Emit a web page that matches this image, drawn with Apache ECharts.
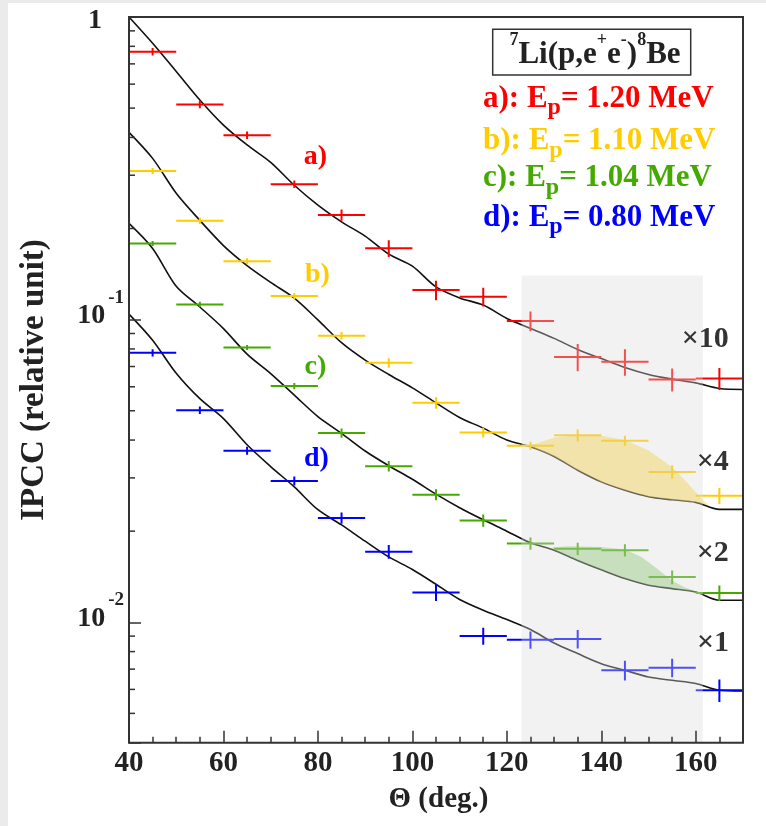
<!DOCTYPE html>
<html>
<head>
<meta charset="utf-8">
<script src="https://cdn.jsdelivr.net/npm/echarts@6/dist/echarts.min.js"></script>
<style>
html,body{margin:0;padding:0;background:#ebebeb;width:766px;height:826px;overflow:hidden}
#chart{position:absolute;left:8px;top:3px;width:758px;height:823px;background:#ffffff}
</style>
</head>
<body>
<div id="chart"></div>
<script>
// ---------------- data ----------------
const thetaBins = [45, 55, 65, 75, 85, 95, 105, 115, 125, 135, 145, 155, 165];
const binHalfWidth = 5;

const ipccA = [0.768, 0.514, 0.407, 0.280, 0.2215, 0.172, 0.1252, 0.119, 0.0989, 0.0753, 0.0726, 0.0634, 0.0639];
const errA  = [0.022, 0.0147, 0.0116, 0.008, 0.0095, 0.0108, 0.0092, 0.0084, 0.0074, 0.0078, 0.0073, 0.0055, 0.0053];

const ipccB = [0.3097, 0.212, 0.156, 0.1196, 0.0885, 0.0720, 0.0531, 0.0424, 0.0383, 0.0415, 0.0398, 0.0314, 0.0262];
const errB  = [0.0071, 0.0049, 0.0036, 0.0028, 0.0026, 0.0026, 0.0023, 0.0016, 0.0012, 0.0019, 0.0015, 0.0016, 0.0016];

const ipccC = [0.1786, 0.1123, 0.0809, 0.0603, 0.0422, 0.0328, 0.0264, 0.0217, 0.0182, 0.0175, 0.0173, 0.0141, 0.0125];
const errC  = [0.0034, 0.0022, 0.0016, 0.0014, 0.0015, 0.0013, 0.0011, 0.0010, 0.00085, 0.00082, 0.00081, 0.00074, 0.00074];

const ipccD = [0.0777, 0.0502, 0.0369, 0.0293, 0.0221, 0.0171, 0.01254, 0.00901, 0.00875, 0.00881, 0.00694, 0.00708, 0.00596];
const errD  = [0.0022, 0.0014, 0.0011, 0.0010, 0.00095, 0.00089, 0.00079, 0.00059, 0.00057, 0.00062, 0.00052, 0.00050, 0.00051];

const curveTheta = [40, 45, 50, 55, 60, 65, 70, 75, 80, 85, 90, 95, 100, 105, 110, 115, 120, 125, 130, 135, 140, 145, 150, 155, 160, 165, 170];
const curveA = [1.000, 0.819, 0.661, 0.532, 0.4395, 0.378, 0.331, 0.278, 0.239, 0.2105, 0.1888, 0.1646, 0.1502, 0.1283, 0.118, 0.1117, 0.1009, 0.0935, 0.0867, 0.0797, 0.0744, 0.0695, 0.0659, 0.0636, 0.0618, 0.0592, 0.0588];
const curveB = [0.4157, 0.3411, 0.2616, 0.2128, 0.1757, 0.1508, 0.1327, 0.1178, 0.0998, 0.0839, 0.0735, 0.0659, 0.0595, 0.0531, 0.0475, 0.0438, 0.0400, 0.0380, 0.0353, 0.0318, 0.0291, 0.0273, 0.0260, 0.0254, 0.0249, 0.0236, 0.0236];
const curveC = [0.208, 0.1719, 0.1289, 0.1101, 0.0934, 0.0769, 0.0663, 0.0563, 0.0478, 0.0421, 0.0368, 0.0329, 0.0297, 0.0265, 0.0239, 0.0218, 0.0200, 0.0183, 0.0173, 0.0160, 0.0149, 0.01394, 0.01325, 0.01292, 0.01259, 0.01182, 0.01182];
const curveD = [0.1043, 0.0855, 0.0665, 0.0548, 0.0471, 0.0386, 0.0327, 0.0280, 0.02354, 0.02098, 0.01853, 0.01644, 0.01494, 0.01335, 0.01189, 0.01096, 0.01021, 0.00946, 0.00854, 0.00788, 0.00730, 0.00694, 0.00659, 0.00643, 0.00628, 0.00596, 0.00593];

// excess bands (upper edge; lower edge is the curve)
const excessBTheta = [123.1, 125.9, 130.1, 135.1, 140.0, 145.0, 149.9, 155.0, 158.4, 161.25, 163.0];
const excessBUpper = [0.0385, 0.0388, 0.0408, 0.0415, 0.0413, 0.0400, 0.0370, 0.0326, 0.0287, 0.0256, 0.0242];
const excessCTheta = [129.65, 133.0, 140.0, 145.0, 148.5, 151.35, 154.9, 157.7, 160.5, 161.6];
const excessCUpper = [0.01766, 0.01783, 0.01774, 0.01739, 0.01644, 0.01524, 0.01376, 0.01302, 0.01259, 0.01244];

const grayBandTheta = [123.1, 161.5];
const grayBandTop = 0.14;

const xMin = 40, xMax = 170, xMajor = 20, xMinor = 5;
const yMin = 0.004, yMax = 1;
const yMinorTicks = [0.005, 0.006, 0.007, 0.008, 0.009, 0.02, 0.03, 0.04, 0.05, 0.06, 0.07, 0.08, 0.09, 0.2, 0.3, 0.4, 0.5, 0.6, 0.7, 0.8, 0.9];
const yLabelValues = [0.01, 0.1, 1];
const yLabelBase = ['10', '10', '1'];
const yLabelExp = ['-2', '-1', ''];

const seriesTags = ['a)', 'b)', 'c)', 'd)'];
const energies = ['1.20', '1.10', '1.04', '0.80'];
const scaleFactors = ['×10', '×4', '×2', '×1'];
const colors = ['#ff0000', '#ffcc00', '#44aa00', '#0000ff'];

// ---------------- chart ----------------
const FONT = '"Liberation Serif", "Times New Roman", serif';
const INK = '#222';
const chart = echarts.init(document.getElementById('chart'));

function crossSeries(vals, errs, color) {
  return {
    type: 'custom', coordinateSystem: 'cartesian2d', clip: true, z: 3, silent: true,
    data: thetaBins.map((t, i) => [t, vals[i], errs[i]]),
    renderItem: function (params, api) {
      const t = api.value(0), v = api.value(1), e = api.value(2);
      const pl = api.coord([t - binHalfWidth, v]);
      const pr = api.coord([t + binHalfWidth, v]);
      const pt = api.coord([t, v + e]);
      const pb = api.coord([t, v - e]);
      const st = { stroke: color, lineWidth: 2 };
      return { type: 'group', children: [
        { type: 'line', shape: { x1: pl[0], y1: pl[1], x2: pr[0], y2: pr[1] }, style: st },
        { type: 'line', shape: { x1: pt[0], y1: pt[1], x2: pb[0], y2: pb[1] }, style: st }
      ]};
    }
  };
}

function curveSeries(vals) {
  return {
    type: 'line', data: curveTheta.map((t, i) => [t, vals[i]]),
    showSymbol: false, symbol: 'none', smooth: 0.3, z: 2, silent: true,
    lineStyle: { color: '#111', width: 1.6 }
  };
}

function excessSeries(upT, upV, curve, fill) {
  return {
    type: 'custom', coordinateSystem: 'cartesian2d', clip: true, z: 5, silent: true,
    data: [[upT[0], upV[0]]],
    renderItem: function (params, api) {
      const upper = upT.map((t, i) => api.coord([t, upV[i]]));
      const t0 = upT[0], t1 = upT[upT.length - 1];
      const lower = curveTheta.map((t, i) => [t, curve[i]])
        .filter(p => p[0] > t0 && p[0] < t1).reverse().map(p => api.coord(p));
      return { type: 'polygon', shape: { points: upper.concat(lower) }, style: { fill: fill } };
    }
  };
}

const richLegend = (color) => ({
  t: { fontSize: 31, fontWeight: 'bold', fontFamily: FONT, fill: color, lineHeight: 31, verticalAlign: 'middle' },
  p: { fontSize: 24, fontWeight: 'bold', fontFamily: FONT, fill: color, lineHeight: 24, padding: [19, 0, 0, 0], verticalAlign: 'middle' }
});

const legendY = [95.7, 137.8, 175.3, 214.5];
const tagPos = [[307.5, 154], [309.5, 272], [307.5, 364], [308.5, 456]];
const factorPos = [[673.7, 336], [688.7, 459], [688.7, 550], [689, 640]];

const graphics = [];
graphics.push({ type: 'rect', z: 20, silent: true,
  shape: { x: 484.7, y: 26.3, width: 198, height: 45.7 },
  style: { fill: 'rgba(0,0,0,0)', stroke: '#333', lineWidth: 1.5 } });
graphics.push({ type: 'text', z: 20, silent: true, x: 587, y: 51.5,
  style: { text: '{s|7}{m|Li(p,e}{s|+}{m|e}{s|-}{m|)}{s|8}{m|Be}', align: 'center', verticalAlign: 'middle',
    rich: {
      m: { fontSize: 31, fontWeight: 'bold', fontFamily: FONT, fill: INK, lineHeight: 31, verticalAlign: 'middle' },
      s: { fontSize: 18, fontWeight: 'bold', fontFamily: FONT, fill: INK, lineHeight: 18, padding: [0, 0, 28, 0], verticalAlign: 'middle' }
    } } });
for (let i = 0; i < 4; i++) {
  graphics.push({ type: 'text', z: 20, silent: true, x: 475, y: legendY[i],
    style: { text: '{t|' + seriesTags[i] + ': E}{p|p}{t|= ' + energies[i] + ' MeV}', align: 'left', verticalAlign: 'middle', rich: richLegend(colors[i]) } });
  graphics.push({ type: 'text', z: 20, silent: true, x: tagPos[i][0], y: tagPos[i][1],
    style: { text: seriesTags[i], fill: colors[i], fontSize: 28, fontWeight: 'bold', fontFamily: FONT, align: 'center', verticalAlign: 'middle' } });
  graphics.push({ type: 'text', z: 20, silent: true, x: factorPos[i][0], y: factorPos[i][1],
    style: { text: scaleFactors[i], fill: '#333', fontSize: 30, fontWeight: 'bold', fontFamily: FONT, align: 'left', verticalAlign: 'middle' } });
}
graphics.push({ type: 'text', z: 20, silent: true, x: 430.5, y: 797,
  style: { text: 'Θ (deg.)', fill: INK, fontSize: 29, fontWeight: 'bold', fontFamily: FONT, align: 'center', verticalAlign: 'middle' } });
graphics.push({ type: 'text', z: 20, silent: true, x: 26, y: 377, rotation: Math.PI / 2,
  style: { text: 'IPCC (relative unit)', fill: INK, fontSize: 33, fontWeight: 'bold', fontFamily: FONT, align: 'center', verticalAlign: 'middle' } });

function isLabelValue(v) {
  return yLabelValues.findIndex(x => Math.abs(Math.log10(v) - Math.log10(x)) < 1e-6);
}

const option = {
  animation: false,
  backgroundColor: '#ffffff',
  grid: { left: 121, top: 14, width: 614, height: 725.7, show: true, borderColor: '#333', borderWidth: 2,
    backgroundColor: 'rgba(0,0,0,0)', z: 10, containLabel: false, outerBoundsMode: 'none' },
  xAxis: [
    { type: 'value', min: xMin, max: xMax, interval: xMajor, position: 'bottom', z: 10,
      axisLine: { show: false }, splitLine: { show: false },
      axisTick: { show: true, inside: true, length: 12, lineStyle: { color: '#333', width: 1.5 } },
      axisLabel: { show: true, showMaxLabel: false, margin: 6, color: INK, fontSize: 29, fontWeight: 'bold', fontFamily: FONT } },
    { type: 'value', min: xMin, max: xMax, interval: xMinor, position: 'bottom', z: 10,
      axisLine: { show: false }, splitLine: { show: false },
      axisTick: { show: true, inside: true, length: 6, lineStyle: { color: '#333', width: 1.5 } },
      axisLabel: { show: false } }
  ],
  yAxis: [
    { type: 'log', logBase: 10, min: yMin, max: yMax, z: 10,
      axisLine: { show: false }, splitLine: { show: false },
      axisTick: { show: true, inside: true, length: 12, lineStyle: { color: '#333', width: 1.5 } },
      axisLabel: { show: true, margin: 5,
        formatter: function (v) {
          const k = isLabelValue(v);
          if (k < 0) return '';
          if (yLabelExp[k] === '') return '{one|' + yLabelBase[k] + '}';
          return '{b|' + yLabelBase[k] + '}{e|' + yLabelExp[k] + '}';
        },
        rich: {
          b: { fontSize: 28, fontWeight: 'bold', fontFamily: FONT, color: INK, lineHeight: 28, padding: [0, 0, 8, 0], verticalAlign: 'middle' },
          e: { fontSize: 19, fontWeight: 'bold', fontFamily: FONT, color: INK, lineHeight: 19, padding: [0, 0, 44, 3], verticalAlign: 'middle' },
          one: { fontSize: 28, fontWeight: 'bold', fontFamily: FONT, color: INK, lineHeight: 28, padding: [8, 22, 0, 0], verticalAlign: 'middle' }
        } } }
  ],
  graphic: graphics,
  series: [
    curveSeries(curveA), curveSeries(curveB), curveSeries(curveC), curveSeries(curveD),
    crossSeries(ipccA, errA, colors[0]), crossSeries(ipccB, errB, colors[1]),
    crossSeries(ipccC, errC, colors[2]), crossSeries(ipccD, errD, colors[3]),
    { type: 'custom', coordinateSystem: 'cartesian2d', clip: true, z: 4, silent: true,
      data: [[grayBandTheta[0], grayBandTop, grayBandTheta[1]]],
      renderItem: function (params, api) {
        const p1 = api.coord([api.value(0), api.value(1)]);
        const p2 = api.coord([api.value(2), yMin]);
        return { type: 'rect', shape: { x: p1[0], y: p1[1], width: p2[0] - p1[0], height: p2[1] - p1[1] },
          style: { fill: 'rgba(219,219,219,0.365)' } };
      } },
    excessSeries(excessBTheta, excessBUpper, curveB, 'rgba(240,205,60,0.4)'),
    excessSeries(excessCTheta, excessCUpper, curveC, 'rgba(120,190,90,0.35)'),
    { type: 'custom', coordinateSystem: 'cartesian2d', clip: false, z: 10, silent: true,
      data: yMinorTicks.map(v => [xMin, v]),
      renderItem: function (params, api) {
        const p = api.coord([api.value(0), api.value(1)]);
        return { type: 'line', shape: { x1: p[0], y1: p[1], x2: p[0] + 6, y2: p[1] }, style: { stroke: '#333', lineWidth: 1.5 } };
      } }
  ]
};
chart.setOption(option);
</script>
</body>
</html>
